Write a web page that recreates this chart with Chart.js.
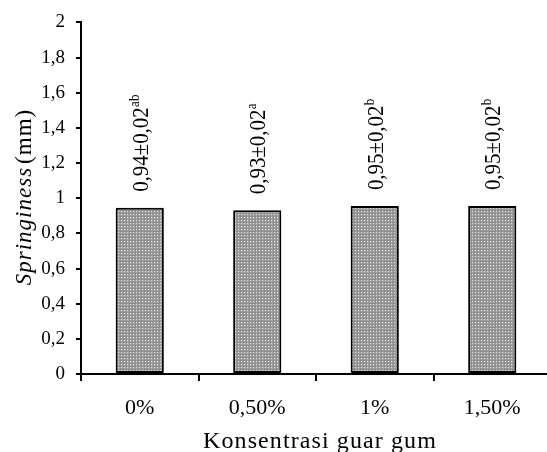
<!DOCTYPE html>
<html>
<head>
<meta charset="utf-8">
<script src="https://cdn.jsdelivr.net/npm/chart.js@4"></script>
<style>
html,body{margin:0;padding:0;background:#fff;overflow:hidden;width:547px;height:452px;}
canvas{display:block;}
</style>
</head>
<body>
<canvas id="c" width="560" height="452"></canvas>
<script>
const categories = ['0%', '0,50%', '1%', '1,50%'];
const springiness = [0.945, 0.932, 0.955, 0.955];
const meanLabels = ['0,94', '0,93', '0,95', '0,95'];
const sdLabels = ['0,02', '0,02', '0,02', '0,02'];
const letters = ['ab', 'a', 'b', 'b'];
const yTitleItalic = 'Springiness';
const yTitleUnit = '(mm)';
const xTitle = 'Konsentrasi guar gum';

function fmt(v){ return String(Math.round(v*100)/100).replace('.', ','); }

// checkered grey fill
const pc = document.createElement('canvas');
pc.width = 3; pc.height = 3;
const px = pc.getContext('2d');
px.fillStyle = '#9a9a9a'; px.fillRect(0,0,3,3);
px.fillStyle = '#e6e6e6'; px.fillRect(1,1,1,1);
px.fillStyle = '#7c7c7c'; px.fillRect(0,0,1,1);
const ctx0 = document.getElementById('c').getContext('2d');
const pattern = ctx0.createPattern(pc, 'repeat');

const SERIF = '"Liberation Serif", "Times New Roman", serif';

const textPlugin = {
  id: 'texts',
  afterDraw(chart){
    const ctx = chart.ctx;
    const meta = chart.getDatasetMeta(0);
    // data labels
    meta.data.forEach((bar, i) => {
      ctx.save();
      ctx.translate(bar.x, bar.y - 16);
      ctx.rotate(-Math.PI/2);
      ctx.scale(0.87, 1);
      ctx.fillStyle = '#000';
      ctx.textAlign = 'left';
      ctx.textBaseline = 'alphabetic';
      ctx.font = '24px ' + SERIF;
      const main = meanLabels[i] + '±' + sdLabels[i];
      ctx.fillText(main, 0, 8);
      const w = ctx.measureText(main).width;
      ctx.font = '15px ' + SERIF;
      ctx.fillText(letters[i], w + 0.5, -1);
      ctx.restore();
    });
    // y title
    ctx.save();
    ctx.translate(31, 197);
    ctx.rotate(-Math.PI/2);
    ctx.fillStyle = '#000';
    ctx.textBaseline = 'alphabetic';
    ctx.textAlign = 'left';
    try { ctx.letterSpacing = '1px'; } catch(e) {}
    ctx.font = 'italic 23px ' + SERIF;
    const w1 = ctx.measureText(yTitleItalic).width;
    ctx.font = '23px ' + SERIF;
    const w2 = ctx.measureText(yTitleUnit).width;
    const gap = 3;
    const total = w1 + gap + w2;
    ctx.font = 'italic 23px ' + SERIF;
    ctx.fillText(yTitleItalic, -total/2, 0);
    ctx.font = '23px ' + SERIF;
    ctx.fillText(yTitleUnit, -total/2 + w1 + gap, 0);
    ctx.restore();
    // x title
    ctx.save();
    ctx.fillStyle = '#000';
    ctx.textBaseline = 'alphabetic';
    ctx.textAlign = 'center';
    try { ctx.letterSpacing = '1.1px'; } catch(e) {}
    ctx.font = '24px ' + SERIF;
    ctx.fillText(xTitle, 320, 448);
    ctx.restore();
  }
};

new Chart(ctx0, {
  type: 'bar',
  data: {
    labels: categories,
    datasets: [{
      data: springiness,
      backgroundColor: pattern,
      borderColor: '#000',
      borderWidth: 2,
      borderSkipped: false,
      categoryPercentage: 1,
      barPercentage: 0.41
    }]
  },
  options: {
    responsive: false,
    animation: false,
    devicePixelRatio: 1,
    layout: { padding: { left: 0, top: 16, right: 9, bottom: 0 } },
    plugins: { legend: { display: false }, tooltip: { enabled: false } },
    scales: {
      x: {
        offset: true,
        grid: { display: true, drawOnChartArea: false, offset: true, tickLength: 7, color: '#000', lineWidth: 2 },
        border: { display: true, color: '#000', width: 2 },
        ticks: { color: '#000', font: { family: SERIF, size: 22 }, padding: 14, maxRotation: 0 },
        afterFit(s){ s.height = 78; }
      },
      y: {
        min: 0, max: 2,
        grid: { display: true, drawOnChartArea: false, tickLength: 5, color: '#000', lineWidth: 2 },
        border: { display: true, color: '#000', width: 2 },
        ticks: { stepSize: 0.2, color: '#000', font: { family: SERIF, size: 19 }, padding: 11,
                 callback: v => fmt(v) },
        afterFit(s){ s.width = 81; }
      }
    }
  },
  plugins: [textPlugin]
});
</script>
</body>
</html>
